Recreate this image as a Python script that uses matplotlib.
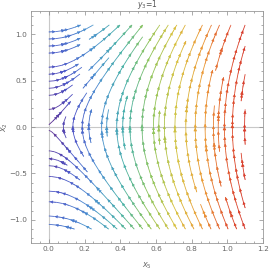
import numpy as np
import matplotlib
matplotlib.use('Agg')
import matplotlib.pyplot as plt
from matplotlib.colors import LinearSegmentedColormap, Normalize
from matplotlib.patches import FancyArrowPatch

# stream field: x5' = k * x2, x2' = x5  (y3 = 1)
k_coef = 0.2
x5_range = [0.0, 1.1]
x2_range = [-1.1, 1.1]
xticks = [0.0, 0.2, 0.4, 0.6, 0.8, 1.0, 1.2]
yticks = [-1.0, -0.5, 0.0, 0.5, 1.0]
title = "$y_3$=1"

rainbow = ['#5b2a8e', '#4b55c8', '#4a8fd0', '#45b0a8', '#8cc45a', '#d6c23e', '#eb9a35', '#e0502c', '#d32f2a']
cmap = LinearSegmentedColormap.from_list('mma_rainbow', rainbow)
norm = Normalize(0, 1.16)

xs = np.linspace(x5_range[0], x5_range[1], 120)
ys = np.linspace(x2_range[0], x2_range[1], 200)
X, Y = np.meshgrid(xs, ys)
U = k_coef * Y
V = X
speed = np.sqrt(U ** 2 + V ** 2)

fig = plt.figure(figsize=(2.70, 2.71), dpi=100)
ax = fig.add_axes([31 / 270, 28 / 271, 232 / 270, 232 / 271])

ax.axhline(0, color='#c8c8c8', lw=0.8, zorder=0)
ax.axvline(0, color='#c8c8c8', lw=0.8, zorder=0)

strm = ax.streamplot(X, Y, U, V, color=speed, cmap=cmap, norm=norm,
                     density=(0.8, 1.0), linewidth=0.6, arrowsize=0.45,
                     arrowstyle='-|>')

ax.set_xlim(-0.1, 1.2)
ax.set_ylim(-1.25, 1.25)

# extra arrowheads along each streamline, Mathematica style
segs = strm.lines.get_segments()
tracks = []
cur = []
for s in segs:
    if cur and np.allclose(cur[-1], s[0]):
        cur.append(s[1])
    else:
        if len(cur) > 1:
            tracks.append(np.array(cur))
        cur = [s[0], s[1]]
if len(cur) > 1:
    tracks.append(np.array(cur))

sx = 232 / 1.3
sy = 232 / 2.5
step = 11.0
for tr in tracks:
    d = np.hypot(np.diff(tr[:, 0]) * sx, np.diff(tr[:, 1]) * sy)
    cum = np.concatenate([[0], np.cumsum(d)])
    for target in np.arange(step / 2, cum[-1] - 2, step):
        i = np.searchsorted(cum, target)
        j = np.searchsorted(cum, target - 3)
        i = min(max(i, 1), len(tr) - 1)
        j = min(max(j, 0), i - 1)
        p0, p1 = tr[j], tr[i]
        if np.allclose(p0, p1):
            continue
        sp = np.hypot(k_coef * p1[1], p1[0])
        arr = FancyArrowPatch(p0, p1, arrowstyle='-|>', mutation_scale=4.5,
                              shrinkA=0, shrinkB=0,
                              color=cmap(norm(sp)), lw=0.3, zorder=3)
        ax.add_patch(arr)

ax.set_xticks(xticks)
ax.set_yticks(yticks)
ax.set_xticklabels([f"{t:.1f}" for t in xticks])
ax.set_yticklabels([f"{t:.1f}".replace('-', '\u2212') for t in yticks])
ax.minorticks_on()
ax.tick_params(which='both', direction='in', top=True, right=True, colors='#888888',
               labelcolor='#666666', labelsize=5.3, width=0.5, pad=2.5)
ax.tick_params(which='major', length=3)
ax.tick_params(which='minor', length=1.6)
ax.tick_params(axis='x', which='both', labeltop=False)
ax.tick_params(axis='y', which='both', labelright=False)
for s in ax.spines.values():
    s.set_color('#999999')
    s.set_linewidth(0.6)

ax.text(0.5, 0.999, title, transform=ax.transAxes, ha='center', va='bottom',
        fontsize=5.5, color='#555555')
ax.set_xlabel("$x_5$", fontsize=5.8, color='#666666')
ax.xaxis.set_label_coords(0.5, -0.075)
ax.set_ylabel("$x_2$", fontsize=5.8, color='#666666')
ax.yaxis.set_label_coords(-0.09, 0.5)

plt.savefig("out.png", dpi=100)
plt.close()
